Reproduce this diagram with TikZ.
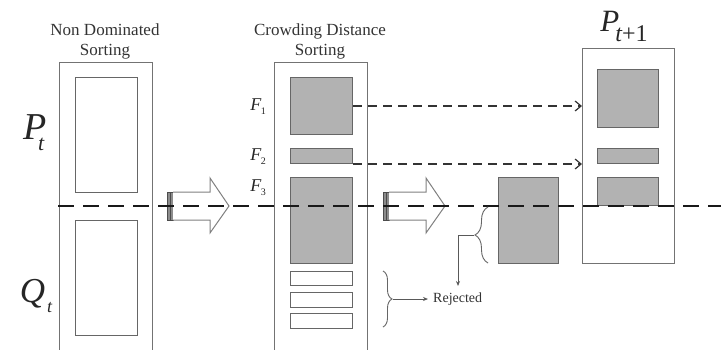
\documentclass[tikz,border=0pt]{standalone}
\usepackage{fontspec}
\setmainfont{Liberation Serif}
\usetikzlibrary{decorations.pathreplacing,arrows.meta}
\newcommand\flab[1]{{\fontsize{18}{18}\selectfont\itshape F\kern-0.5pt\raisebox{-4pt}{\fontsize{10}{10}\selectfont\upshape #1}}}
\begin{document}
\begin{tikzpicture}[x=1pt,y=-1pt,
  sz/.style 2 args={minimum width=#1pt, minimum height=#2pt},
  outerbox/.style={draw=black!55, line width=1.1pt, inner sep=0pt, anchor=north west},
  whitebox/.style={draw=black!60, line width=1pt, fill=white, inner sep=0pt, anchor=north west},
  graybox/.style={draw=black!60, line width=1pt, fill=black!30, inner sep=0pt, anchor=north west},
  heading/.style={align=center, font=\fontsize{17}{20}\selectfont, text=black!80},
  maindash/.style={draw=black!90, line width=2.2pt, dash pattern=on 16pt off 9pt},
  thindash/.style={draw=black!80, line width=1.2pt, dash pattern=on 9pt off 6pt, -{Straight Barb[length=6pt,width=10pt]}},
  thinarrow/.style={draw=black!65, line width=0.9pt, -{Stealth[length=5pt,width=4pt]}},
  bracestyle/.style={draw=black!60, line width=0.9pt, decorate},
  hollowarrow/.pic={
    \fill[black!45] (0,-14) rectangle (6,14);
    \draw[black!70, line width=0.8pt] (0,-14) rectangle (6,14) (3,-14) -- (3,14);
    \draw[black!50, line width=1pt, fill=white] (6,-14) -- (43,-14) -- (43,-28) -- (62,0) -- (43,27) -- (43,14) -- (6,14);
  }]
\clip (0,0) rectangle (726,349);
\fill[white] (0,0) rectangle (726,349);

% headings
\node[heading] (h1) at (105,41) {Non Dominated\\Sorting};
\node[heading] (h2) at (320,41) {Crowding Distance\\Sorting};

% left column
\node[outerbox, sz={93}{330}] (nds) at (59,62) {};
\node[whitebox, sz={62}{115}] (ndP) at (75,77) {};
\node[whitebox, sz={62}{115}] (ndQ) at (75,220) {};
\node[text=black!85] (Pt) at (34,133) {{\fontsize{38}{38}\selectfont\itshape P}\kern-9pt\raisebox{-11pt}{\fontsize{22}{22}\selectfont\itshape t}};
\node[text=black!85] (Qt) at (36,296) {{\fontsize{35}{35}\selectfont\itshape Q}\kern2pt\raisebox{-10pt}{\fontsize{18}{18}\selectfont\itshape t}};

% middle column
\node[outerbox, sz={93}{330}] (cds) at (274,62) {};
\node[graybox, sz={62}{57}] (F1) at (290,77) {};
\node[graybox, sz={62}{15}] (F2) at (290,148) {};
\node[graybox, sz={62}{86}] (F3) at (290,177) {};
\node[whitebox, sz={62}{14}] (W1) at (290,271) {};
\node[whitebox, sz={62}{15}] (W2) at (290,292) {};
\node[whitebox, sz={62}{15}] (W3) at (290,313) {};
\node[text=black!85] (lF1) at (258,107) {\flab{1}};
\node[text=black!85] (lF2) at (258,157) {\flab{2}};
\node[text=black!85] (lF3) at (258,188) {\flab{3}};

% sorted front block
\node[graybox, sz={60}{86}] (G4) at (498,177) {};

% new population
\node[outerbox, sz={92}{215}] (Pn) at (582,48) {};
\node[graybox, sz={61}{58}] (Q1) at (597,69) {};
\node[graybox, sz={61}{15}] (Q2) at (597,148) {};
\node[graybox, sz={61}{28}] (Q3) at (597,177) {};
\node[text=black!85] (Ptn) at (624,26) {{\fontsize{31}{31}\selectfont\itshape P}\kern-4pt\raisebox{-10pt}{\fontsize{24}{24}\selectfont{\itshape t}+1}};

% hollow arrows
\pic at (167,206) {hollowarrow};
\pic at (383,206) {hollowarrow};

% main divider
\coordinate (dl) at (58,206);
\coordinate (dr) at (721,206);
\draw[maindash] (dl) -- (dr);

% copies of F1 and F2
\draw[thindash] (F1.east) -- (F1.east -| Pn.west);
\draw[thindash] (F2.south east) -- (F2.south east -| Pn.west);

% rejected
\node[anchor=west, inner sep=5pt, font=\fontsize{14}{14}\selectfont, text=black!80] (rej) at (428,299) {Rejected};
\draw[bracestyle, decoration={brace, amplitude=9pt}] (383,271) -- (383,327);
\coordinate (b1) at (393,299);
\draw[thinarrow] (b1) -- (rej.west);

\draw[bracestyle, decoration={brace, amplitude=13pt}] (488,263) -- (488,207);
\coordinate (b2) at (474,235);
\coordinate (b2end) at (458,286);
\draw[thinarrow] (b2) -| (b2end);
\end{tikzpicture}
\end{document}
